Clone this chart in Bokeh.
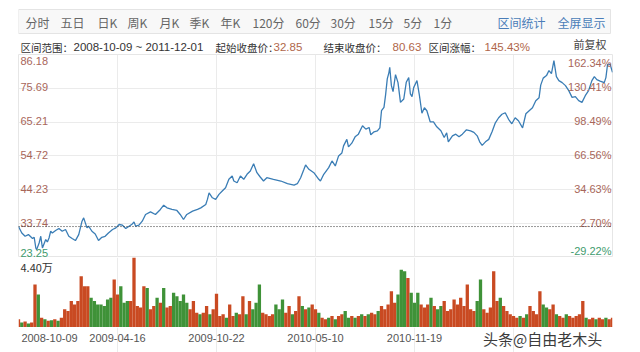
from bokeh.plotting import figure
from bokeh.layouts import column
from bokeh.models import Range1d, FixedTicker, Span, ColumnDataSource
from bokeh.core.properties import value
from bokeh.embed import file_html
from bokeh.resources import INLINE

# ---------------- data ----------------
tabs = ["分时", "五日", "日K", "周K", "月K", "季K", "年K", "120分", "60分", "30分", "15分", "5分", "1分"]
range_label = "区间范围："
range_dates = "2008-10-09 ~ 2011-12-01"
start_price = 32.85
end_price = 80.63
change_pct = "145.43%"

price_ticks = [86.18, 75.69, 65.21, 54.72, 44.23, 33.74, 23.25]
pct_labels = ["162.34%", "130.41%", "98.49%", "66.56%", "34.63%", "2.70%", "-29.22%"]

grid_days = [0, 120, 240, 360, 480, 600]
date_label_days = [37.6, 120, 240, 360, 480]
date_labels = ["2008-10-09", "2009-04-16", "2009-10-22", "2010-05-10", "2010-11-19"]

days = [0, 4, 8, 12, 17, 19, 21, 22, 25, 27, 29, 33, 35, 37, 39, 41, 45, 49, 53, 57,
        61, 65, 69, 73, 77, 79, 81, 83, 85, 89, 93, 97, 101, 105, 109, 114, 118, 122, 126, 130,
        134, 138, 140, 142, 146, 150, 154, 160, 166, 172, 176, 180, 186, 192, 196, 200, 204, 211, 217, 221,
        227, 229, 231, 235, 239, 243, 247, 251, 255, 259, 261, 265, 269, 273, 277, 281, 285, 289, 293, 297,
        301, 309, 318, 326, 334, 338, 342, 346, 348, 352, 358, 364, 366, 370, 376, 380, 384, 388, 392, 394,
        398, 400, 404, 408, 412, 417, 421, 425, 427, 431, 435, 438, 440, 443, 445, 447, 449, 450, 452, 454,
        457, 460, 463, 467, 470, 473, 475, 477, 479, 483, 486, 489, 492, 495, 499, 503, 507, 512, 516, 519,
        521, 526, 530, 534, 538, 543, 548, 552, 556, 559, 562, 566, 570, 574, 578, 582, 586, 590, 594, 598,
        602, 606, 611, 615, 619, 623, 627, 631, 633, 636, 640, 643, 646, 649, 652, 655, 659, 663, 667, 671,
        675, 679, 683, 687, 691, 695, 698, 701, 705, 710, 712, 714, 717, 720]

close = [32.85, 30.86, 29.83, 30.36, 29.12, 29.52, 26.19, 25.69, 27.75, 29.83, 26.19, 28.81, 28.06, 29.30, 31.39, 30.86, 31.61, 32.23, 31.39, 31.92,
         29.83, 29.12, 28.50, 30.36, 34.50, 35.53, 33.97, 32.42, 32.95, 31.39, 30.55, 28.50, 29.52, 29.83, 30.86, 31.92, 32.42, 33.48, 33.26, 32.23,
         32.95, 33.66, 34.29, 32.95, 33.26, 34.50, 36.59, 37.40, 36.59, 38.15, 39.48, 38.64, 38.15, 37.83, 36.59, 35.03, 36.59, 37.62, 38.15, 38.64,
         39.70, 41.26, 43.31, 41.76, 41.26, 42.81, 43.84, 44.87, 47.49, 48.51, 46.96, 46.43, 48.51, 47.49, 49.04, 50.07, 52.34, 49.54, 48.20, 46.96,
         47.98, 47.49, 46.96, 46.12, 45.71, 46.12, 47.98, 50.60, 51.94, 50.60, 49.54, 47.49, 46.96, 49.04, 51.10, 53.18, 51.63, 54.74, 55.67, 57.85,
         59.87, 57.54, 58.69, 60.65, 61.49, 64.08, 63.05, 63.55, 61.28, 62.21, 62.52, 63.45, 68.75, 69.77, 73.73, 78.62, 80.58, 82.23, 76.53, 74.66,
         79.95, 77.46, 71.33, 72.39, 77.56, 79.02, 73.95, 73.11, 75.91, 78.09, 73.42, 67.97, 69.68, 68.75, 65.32, 65.32, 63.77, 62.52, 60.43, 61.90,
         59.10, 60.96, 61.49, 60.65, 61.49, 62.83, 62.52, 62.05, 60.96, 59.10, 58.01, 59.10, 59.87, 62.21, 65.01, 66.57, 67.66, 68.12, 66.10, 64.70,
         66.57, 65.63, 63.45, 67.81, 68.75, 69.68, 71.86, 72.79, 76.69, 78.86, 79.64, 81.20, 80.27, 84.31, 79.33, 78.09, 77.46, 76.53, 74.97, 72.89,
         73.11, 71.86, 71.33, 73.42, 74.97, 78.09, 79.33, 78.40, 77.93, 77.46, 79.02, 83.07, 83.22, 80.63]

# volume, in 万 shares, one value per 4-trading-day bin
vol_days = list(range(0, 721, 4))
volume = [0.52, 0.31, 0.37, 0.25, 0.31, 2.70, 2.08, 0.62, 0.52, 0.42,
          0.46, 0.52, 0.42, 0.62, 1.14, 1.04, 1.66, 1.45, 1.66, 3.22,
          2.59, 2.59, 1.87, 1.66, 1.45, 1.45, 1.35, 1.76, 1.87, 3.01,
          2.08, 2.59, 1.56, 1.66, 1.66, 4.40, 1.35, 1.25, 2.59, 2.49,
          1.14, 1.35, 1.87, 1.56, 2.49, 1.25, 1.35, 2.18, 1.97, 1.66,
          2.08, 1.56, 1.14, 1.66, 0.93, 0.83, 0.93, 1.35, 0.83, 1.14,
          2.12, 0.73, 0.83, 0.62, 1.45, 0.73, 0.93, 0.83, 1.97, 0.83,
          1.66, 1.14, 1.56, 2.70, 0.93, 0.83, 0.73, 0.83, 1.45, 1.14,
          1.76, 0.93, 1.35, 0.83, 1.04, 1.97, 1.35, 1.14, 1.25, 1.45,
          1.14, 0.93, 0.62, 0.52, 0.62, 0.73, 0.52, 0.73, 0.83, 1.04,
          0.62, 0.73, 0.62, 0.73, 0.83, 0.73, 0.83, 0.93, 0.83, 1.04,
          1.35, 1.14, 1.45, 2.28, 1.56, 2.08, 3.63, 3.53, 3.11, 2.18,
          1.56, 2.18, 1.45, 1.25, 1.45, 1.87, 1.35, 1.14, 1.35, 1.66,
          1.04, 1.14, 1.76, 1.45, 1.87, 1.35, 2.70, 1.14, 1.04, 1.66,
          3.01, 1.14, 0.93, 1.25, 3.53, 1.66, 1.87, 1.35, 1.04, 0.83,
          0.73, 0.62, 0.73, 0.62, 0.83, 1.35, 1.04, 0.83, 2.28, 1.45,
          1.25, 1.14, 1.45, 0.83, 0.73, 0.62, 0.83, 0.73, 0.62, 0.73,
          0.83, 1.66, 0.62, 0.52, 0.62, 0.52, 0.62, 0.52, 0.62, 0.52,
          0.62]
vol_dir = ("rgrgrrgrgr" "grgrrrrrrr" "rrgggggggr" "rgggrrrrrg" "rrgrgrrggg"
           "ggrrrgrrgr" "rrrgrrgrrg" "rgggrrrrgg" "grrgrrgrgr" "rgrrgrgrrg"
           "grgrgrgrrg" "rrrrrgggrg" "ggrrrgrggr" "rrrrrrrrrg" "grrrrrgrrr"
           "rrgrgrrrrg" "grrgrrgrrr" "rrgrrgrrgrr")
vol_max = 4.40
watermark = "头条@自由老木头"

assert len(days) == len(close)
assert len(vol_days) == len(volume) == len(vol_dir)

# ---------------- styles ----------------
CJK = "Noto Sans CJK SC"
NUM = "Liberation Sans"
UP_TXT = "#a8665a"
DN_TXT = "#3f9b6e"
RED = "#c94a22"
GREEN = "#3f9238"
GRID = "#ebebeb"

W = 640
L_BORDER, R_BORDER = 18, 28
X0, X1 = 0, 720
COMMON = dict(output_backend="svg", toolbar_location=None,
              min_border_left=L_BORDER, min_border_right=R_BORDER,
              min_border_top=0, min_border_bottom=0)


def blank(fig):
    fig.axis.visible = False
    fig.xgrid.visible = False
    fig.ygrid.visible = False
    fig.outline_line_color = None


# ---------------- header (pixel-like coordinates inside the common frame) ----------------
h = figure(width=W, height=54, x_range=Range1d(L_BORDER, W - R_BORDER), y_range=Range1d(54, 0), **COMMON)
blank(h)
h.quad(left=[18], right=[610], top=[9], bottom=[33], fill_color="#f8f8f8", line_color="#e4e4e4")
tab_x = [25, 60, 97, 127, 159, 189, 220, 252, 295, 330, 368, 403, 433]
h.text(x=tab_x, y=[22] * len(tabs), text=tabs, text_font=value(CJK), text_font_size="12px",
       text_color="#666666", text_baseline="middle", text_align="left")
h.text(x=[497, 557], y=[22, 22], text=["区间统计", "全屏显示"], text_font=value(CJK), text_font_size="12px",
       text_color="#4a7db8", text_baseline="middle", text_align="left")
h.text(x=[20, 215, 323, 428], y=[46.5] * 4,
       text=[range_label, "起始收盘价：", "结束收盘价：", "区间涨幅："],
       text_font=value(CJK), text_font_size="10.5px", text_color="#333333",
       text_baseline="middle", text_align="left")
h.text(x=[73], y=[46.5], text=[range_dates], text_font=value(NUM), text_font_size="11.5px",
       text_color="#333333", text_baseline="middle", text_align="left")
h.text(x=[273, 392, 484], y=[46.5] * 3,
       text=[f"{start_price:.2f}", f"{end_price:.2f}", change_pct],
       text_font=value(NUM), text_font_size="11.5px", text_color="#b0664a",
       text_baseline="middle", text_align="left")
h.text(x=[573], y=[43], text=["前复权"], text_font=value(CJK), text_font_size="11px",
       text_color="#444444", text_baseline="middle", text_align="left")

# ---------------- price panel ----------------
p = figure(width=W, height=203, x_range=Range1d(X0, X1), y_range=Range1d(price_ticks[-1], price_ticks[0]), **COMMON)
p.axis.visible = False
p.outline_line_color = "#e6e6e6"
p.xgrid.ticker = FixedTicker(ticks=grid_days)
p.ygrid.ticker = FixedTicker(ticks=price_ticks)
p.xgrid.grid_line_color = GRID
p.ygrid.grid_line_color = GRID
p.add_layout(Span(location=start_price, dimension="width", line_color="#333333",
                  line_dash="1 2", line_width=1))
p.line(days, close, line_color="#3a7db5", line_width=1.3)

cols = [UP_TXT if t >= start_price else DN_TXT for t in price_ticks]
for sl, base, yoff in ((slice(0, 1), "top", 2), (slice(1, -1), "middle", -1), (slice(-1, None), "bottom", -1)):
    ys = price_ticks[sl]
    p.text(x=[X0] * len(ys), y=ys, text=[f"{t:.2f}" for t in ys], x_offset=2, y_offset=yoff,
           text_font=value(NUM), text_font_size="11px", text_color=cols[sl],
           text_align="left", text_baseline=base)
    p.text(x=[X1] * len(ys), y=ys, text=pct_labels[sl], x_offset=-1, y_offset=yoff,
           text_font=value(NUM), text_font_size="11px", text_color=cols[sl],
           text_align="right", text_baseline=base)

# ---------------- volume panel ----------------
v = figure(width=W, height=70, x_range=p.x_range, y_range=Range1d(0, vol_max), **COMMON)
v.axis.visible = False
v.outline_line_color = None
v.ygrid.visible = False
v.xgrid.ticker = FixedTicker(ticks=grid_days)
v.xgrid.grid_line_color = GRID
src = ColumnDataSource(dict(x=vol_days, top=volume,
                            color=[RED if c == "r" else GREEN for c in vol_dir]))
v.vbar(x="x", top="top", width=4, source=src, fill_color="color", line_color=None)
v.text(x=[X0], y=[vol_max], text=[f"{vol_max:.2f}万"], x_offset=2, y_offset=1,
       text_font=value(CJK), text_font_size="11px", text_color="#333333",
       text_align="left", text_baseline="top")

# ---------------- date row (shares the day scale) ----------------
f = figure(width=W, height=25, x_range=p.x_range, y_range=Range1d(25, 0), **COMMON)
blank(f)
f.xgrid.visible = True
f.xgrid.ticker = FixedTicker(ticks=grid_days)
f.xgrid.grid_line_color = GRID
f.text(x=date_label_days, y=[10] * len(date_labels), text=date_labels,
       text_font=value(NUM), text_font_size="11px", text_color="#555555",
       text_align="center", text_baseline="middle")
f.text(x=[563], y=[11], text=[watermark], text_font=value(CJK), text_font_size="15px",
       text_color="#3c3c3c", text_align="left", text_baseline="middle")

layout = column(h, p, v, f)
open("out.html", "w").write(file_html(layout, INLINE))
